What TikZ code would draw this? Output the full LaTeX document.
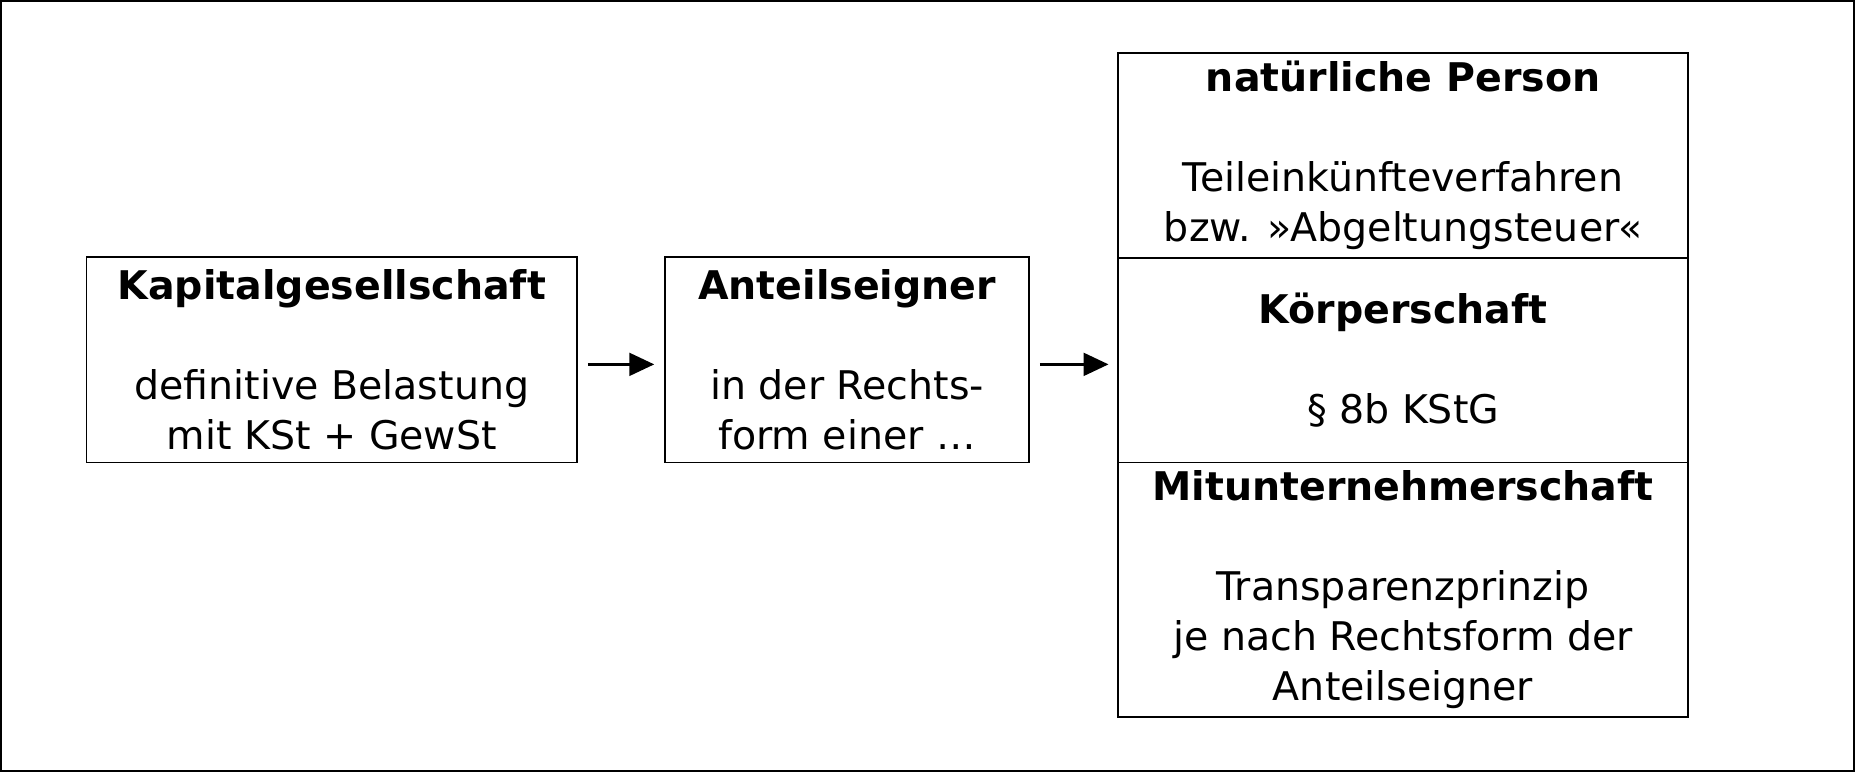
\documentclass[tikz,border=0pt]{standalone}
\usepackage{fontspec}
\setmainfont{DejaVu Sans}
\usetikzlibrary{arrows.meta}
\begin{document}
\begin{tikzpicture}[x=0.02cm,y=-0.02cm,
  box/.style={draw,line width=0.8pt,inner sep=0pt,align=center,font=\fontsize{19}{24}\selectfont},
  arr/.style={line width=1.2pt,-{Triangle[length=12pt,width=11pt]}}]
\useasboundingbox (0,0) rectangle (1568,652.6);
\draw[line width=1pt] (1,1) rectangle (1567,651.6);
\node[box,minimum width=415*0.02cm,minimum height=174*0.02cm] (k) at (280.5,304) {\textbf{Kapitalgesellschaft}\\[24pt]definitive Belastung\\mit KSt + GewSt};
\node[box,minimum width=308*0.02cm,minimum height=174*0.02cm] (a) at (716,304) {\textbf{Anteilseigner}\\[24pt]in der Rechts-\\form einer \dots};
\node[box,minimum width=482*0.02cm,minimum height=173*0.02cm] (n) at (1186,131.5) {\textbf{natürliche Person}\\[24pt]Teileinkünfteverfahren\\bzw. »Abgeltungsteuer«};
\node[box,minimum width=482*0.02cm,minimum height=173*0.02cm] (kp) at (1186,304.5) {\textbf{Körperschaft}\\[24pt]\S\ 8b KStG};
\node[box,minimum width=482*0.02cm,minimum height=215*0.02cm] (m) at (1186,498.5) {\textbf{Mitunternehmerschaft}\\[24pt]Transparenzprinzip\\je nach Rechtsform der\\Anteilseigner};
\coordinate (s1) at (497,308); \coordinate (e1) at (553,308);
\coordinate (s2) at (879,308); \coordinate (e2) at (937,308);
\draw[arr] (s1) -- (e1);
\draw[arr] (s2) -- (e2);
\end{tikzpicture}
\end{document}
